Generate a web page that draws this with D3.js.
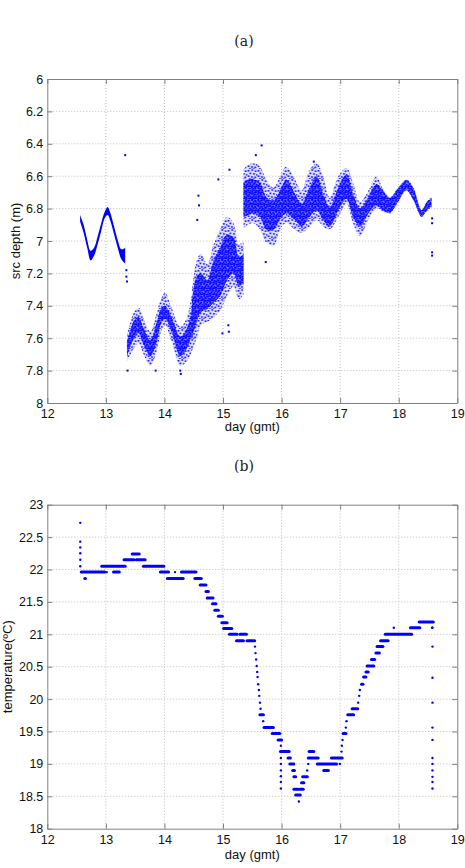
<!DOCTYPE html>
<html>
<head>
<meta charset="utf-8">
<script src="https://cdn.jsdelivr.net/npm/d3@7/dist/d3.min.js"></script>
<style>
  body { margin: 0; background: #fff; }
  text { font-family: "Liberation Sans", Arial, Helvetica, sans-serif; }
</style>
</head>
<body>
<script>
/* global d3 */

// ---------- (a) source depth (m) vs day ----------
// first deployment: clean tidal swing (band top / bottom)
const depA_day = [12.56, 12.62, 12.68, 12.74, 12.80, 12.86, 12.92, 12.98, 13.03, 13.08, 13.14, 13.20, 13.26, 13.30, 13.33];
const depA_top = [6.84, 6.90, 6.99, 7.06, 7.04, 6.97, 6.89, 6.82, 6.79, 6.83, 6.91, 6.99, 7.05, 7.05, 7.04];
const depA_bot = [6.88, 6.95, 7.04, 7.12, 7.09, 7.02, 6.94, 6.86, 6.84, 6.88, 6.96, 7.04, 7.11, 7.13, 7.14];

// second part: noisy, deep
const depB_day = [13.36, 13.42, 13.48, 13.56, 13.645, 13.76, 13.87, 13.94, 14.01, 14.13, 14.27, 14.385, 14.47];
const depB_top = [7.58, 7.50, 7.44, 7.41, 7.48, 7.56, 7.44, 7.36, 7.32, 7.42, 7.53, 7.47, 7.32];
const depB_bot = [7.74, 7.70, 7.66, 7.63, 7.70, 7.77, 7.68, 7.56, 7.52, 7.63, 7.77, 7.74, 7.68];
const depB_coreTop = [7.62, 7.55, 7.49, 7.47, 7.54, 7.61, 7.50, 7.42, 7.40, 7.48, 7.59, 7.54, 7.42];
const depB_coreBot = [7.71, 7.65, 7.60, 7.57, 7.64, 7.71, 7.62, 7.51, 7.48, 7.57, 7.71, 7.66, 7.58];

// rising cloud
const depC_day = [14.47, 14.55, 14.62, 14.73, 14.84, 14.95, 15.07, 15.18, 15.27, 15.35];
const depC_top = [7.30, 7.12, 7.08, 7.14, 7.02, 6.93, 6.85, 6.89, 7.02, 7.00];
const depC_bot = [7.68, 7.60, 7.52, 7.50, 7.47, 7.43, 7.34, 7.28, 7.36, 7.33];
const depC_coreTop = [7.38, 7.22, 7.20, 7.24, 7.12, 7.04, 6.96, 6.98, 7.10, 7.08];
const depC_coreBot = [7.60, 7.50, 7.44, 7.42, 7.38, 7.34, 7.24, 7.20, 7.28, 7.26];

// shallow part, noise dying out towards the end
const depD_day = [15.35, 15.43, 15.52, 15.63, 15.74, 15.86, 16.00, 16.08, 16.23, 16.34, 16.48, 16.60, 16.71, 16.82, 16.97, 17.11, 17.22, 17.34, 17.48, 17.62, 17.73, 17.85, 17.99, 18.13, 18.25, 18.39, 18.47, 18.56];
const depD_top = [6.56, 6.53, 6.52, 6.54, 6.62, 6.67, 6.58, 6.54, 6.62, 6.69, 6.56, 6.52, 6.60, 6.73, 6.60, 6.55, 6.64, 6.76, 6.69, 6.60, 6.68, 6.73, 6.67, 6.62, 6.67, 6.81, 6.76, 6.73];
const depD_bot = [6.92, 6.90, 6.89, 6.93, 7.01, 7.03, 6.91, 6.89, 6.93, 6.95, 6.91, 6.87, 6.91, 6.93, 6.85, 6.77, 6.89, 6.97, 6.87, 6.80, 6.82, 6.83, 6.76, 6.69, 6.75, 6.85, 6.82, 6.79];
const depD_coreTop = [6.64, 6.62, 6.62, 6.64, 6.73, 6.75, 6.67, 6.62, 6.71, 6.77, 6.67, 6.60, 6.71, 6.79, 6.67, 6.59, 6.71, 6.80, 6.73, 6.65, 6.69, 6.735, 6.675, 6.625, 6.675, 6.81, 6.765, 6.735];
const depD_coreBot = [6.85, 6.84, 6.83, 6.85, 6.93, 6.93, 6.85, 6.83, 6.87, 6.91, 6.85, 6.81, 6.87, 6.91, 6.81, 6.74, 6.85, 6.91, 6.83, 6.78, 6.81, 6.825, 6.755, 6.685, 6.745, 6.85, 6.815, 6.785];

// stray readings
const depOut_day = [13.33, 13.35, 13.35, 13.36, 13.37, 13.85, 14.27, 14.28, 14.56, 14.58, 14.59, 14.92, 15.11, 14.99, 15.09, 15.10, 15.56, 15.66, 15.73, 16.55, 18.57, 18.57, 18.57, 18.57];
const depOut_val = [6.47, 7.18, 7.22, 7.25, 7.80, 7.80, 7.80, 7.82, 6.87, 6.72, 6.78, 6.62, 6.56, 7.57, 7.52, 7.56, 6.47, 6.41, 7.13, 6.51, 6.86, 6.89, 7.07, 7.09];

// ---------- (b) temperature vs day ----------
// runs of repeated readings: start day, end day, value
const tmpRun_start = [12.58, 12.64, 12.93, 13.13, 13.31, 13.45, 13.52, 13.64, 13.93, 14.05, 14.29, 14.52, 14.61, 14.71, 14.73, 14.82, 14.86, 14.92, 14.98, 15.01, 15.11, 15.29, 15.23, 15.41,
  15.63, 15.70, 15.84, 15.94, 15.98, 16.11, 16.14, 16.19, 16.21, 16.21, 16.24, 16.31, 16.34, 16.36, 16.455, 16.47, 16.61, 16.72, 16.85, 17.05, 17.13, 17.205, 17.365, 17.40,
  17.44, 17.46, 17.535, 17.61, 17.63, 17.69, 17.77, 18.20, 18.35];
const tmpRun_end = [12.98, 12.65, 13.33, 13.23, 13.48, 13.57, 13.67, 13.99, 14.07, 14.32, 14.54, 14.63, 14.71, 14.75, 14.83, 14.88, 14.92, 14.99, 15.07, 15.15, 15.24, 15.40, 15.35, 15.54,
  15.69, 15.86, 15.97, 16.00, 16.13, 16.15, 16.21, 16.22, 16.24, 16.28, 16.32, 16.37, 16.38, 16.44, 16.625, 16.55, 16.94, 16.80, 17.035, 17.10, 17.23, 17.30, 17.39, 17.44,
  17.48, 17.575, 17.59, 17.67, 17.73, 17.82, 18.22, 18.36, 18.59];
const tmpRun_val = [21.96, 21.86, 22.05, 21.96, 22.15, 22.24, 22.15, 22.05, 21.96, 21.86, 21.96, 21.86, 21.76, 21.66, 21.56, 21.47, 21.37, 21.28, 21.18, 21.09, 21.00, 21.00, 20.90, 20.90,
  19.76, 19.56, 19.47, 19.37, 19.19, 19.09, 19.00, 18.90, 18.80, 18.61, 18.52, 18.61, 18.71, 18.80, 19.09, 19.19, 19.00, 18.90, 19.09, 19.47, 19.76, 19.85, 20.23, 20.34,
  20.42, 20.51, 20.61, 20.71, 20.81, 20.90, 21.00, 21.10, 21.19];
// single readings
const tmpPt_day = [12.563, 12.563, 12.563, 12.563, 12.563, 12.563, 13.015, 14.18,
  15.545, 15.555, 15.565, 15.575, 15.584, 15.59, 15.60, 15.613, 15.618, 15.63, 15.641, 15.686,
  15.988, 15.988, 15.988, 15.988, 15.988, 15.988, 15.988, 16.295, 16.437, 16.455, 16.995, 17.023, 17.029, 17.04, 17.097, 17.109,
  17.308, 17.325, 17.336, 17.45, 17.916, 18.57,
  18.576, 18.576, 18.576, 18.576, 18.576, 18.576, 18.576, 18.576, 18.576, 18.576, 18.576, 18.576];
const tmpPt_val = [22.72, 22.43, 22.34, 22.25, 22.15, 22.05, 21.96, 21.96,
  20.81, 20.71, 20.61, 20.51, 20.42, 20.34, 20.23, 20.14, 20.05, 19.945, 19.85, 19.66,
  19.28, 19.09, 19.00, 18.90, 18.81, 18.72, 18.62, 18.42, 18.90, 19.00, 19.00, 19.19, 19.28, 19.37, 19.56, 19.66,
  19.945, 20.05, 20.14, 20.42, 21.10, 21.10,
  20.81, 20.33, 19.945, 19.56, 19.37, 19.09, 19.00, 18.90, 18.80, 18.72, 18.62, 21.10];

const dayTicks = [12, 13, 14, 15, 16, 17, 18, 19];
const depthTicks = [6, 6.2, 6.4, 6.6, 6.8, 7, 7.2, 7.4, 7.6, 7.8, 8];
const tempTicks = [18, 18.5, 19, 19.5, 20, 20.5, 21, 21.5, 22, 22.5, 23];

const BLUE = '#0000ff';
const W = 465, H = 868;

const svg = d3.select('body').append('svg')
    .attr('width', W)
    .attr('height', H);

const defs = svg.append('defs');

// dot textures used to fill the scatter clouds
function dotPattern(id, size, dots, s) {
    const p = defs.append('pattern')
        .attr('id', id)
        .attr('patternUnits', 'userSpaceOnUse')
        .attr('width', size)
        .attr('height', size);
    p.selectAll('rect')
        .data(dots)
        .join('rect')
        .attr('x', d => d[0])
        .attr('y', d => d[1])
        .attr('width', s)
        .attr('height', s)
        .attr('fill', BLUE);
}
dotPattern('sparse', 10, [[0.5, 1], [4.2, 0.2], [7.6, 1.4], [2.4, 3.6], [5.9, 4.1], [9, 5], [0.6, 6.4], [3.9, 7.2], [7.2, 7.6], [1.8, 9.1], [5.6, 9.3]], 1.6);
dotPattern('dense', 6, [[0, 0], [3, 0.6], [1.5, 2.2], [4.6, 2.8], [0.3, 4], [3.2, 4.5], [5, 5.2], [1.8, 5.4]], 1.8);

/**
 * Axes frame in the MATLAB look: box, dotted grid, inward ticks on all sides.
 */
function drawFrame(cfg) {
    const margin = { top: cfg.top, left: 47.3 };
    const width = 410;
    const height = 324;

    const g = svg.append('g')
        .attr('transform', `translate(${margin.left},${margin.top})`);

    const x = d3.scaleLinear().domain([12, 19]).range([0, width]);
    const y = d3.scaleLinear().domain(cfg.yDomain).range(cfg.yRange(height));

    // grid
    const grid = g.append('g').attr('class', 'grid');
    grid.selectAll('.gx')
        .data(dayTicks.slice(1, -1))
        .join('line')
        .attr('x1', d => x(d)).attr('x2', d => x(d))
        .attr('y1', 0).attr('y2', height);
    grid.selectAll('.gy')
        .data(cfg.yTicks.slice(1, -1))
        .join('line')
        .attr('class', 'gy')
        .attr('x1', 0).attr('x2', width)
        .attr('y1', d => y(d)).attr('y2', d => y(d));
    grid.selectAll('line')
        .style('stroke', '#bdbdbd')
        .style('stroke-width', 1)
        .style('stroke-dasharray', '1,2');

    const plot = g.append('g');

    // axes drawn after the data so they sit on top
    const axes = g.append('g');
    const fmt = d3.format('~g');

    axes.append('g')
        .attr('transform', `translate(0,${height})`)
        .call(d3.axisBottom(x).tickValues(dayTicks).tickSizeInner(-5).tickSizeOuter(0).tickPadding(cfg.xPad).tickFormat(fmt));
    axes.append('g')
        .call(d3.axisTop(x).tickValues(dayTicks).tickSizeInner(-5).tickSizeOuter(0).tickFormat(''));
    axes.append('g')
        .call(d3.axisLeft(y).tickValues(cfg.yTicks).tickSizeInner(-5).tickSizeOuter(0).tickPadding(4).tickFormat(fmt));
    axes.append('g')
        .attr('transform', `translate(${width},0)`)
        .call(d3.axisRight(y).tickValues(cfg.yTicks).tickSizeInner(-5).tickSizeOuter(0).tickFormat(''));

    axes.selectAll('path').style('stroke', '#808080');
    axes.selectAll('line').style('stroke', '#808080');
    axes.selectAll('text')
        .style('font-size', '12.5px')
        .style('fill', '#111');

    // axis labels
    g.append('text')
        .attr('x', width / 2)
        .attr('y', height + cfg.xLabelDy)
        .style('text-anchor', 'middle')
        .style('font-size', '13px')
        .style('fill', '#111')
        .text('day (gmt)');

    g.append('text')
        .attr('transform', 'rotate(-90)')
        .attr('x', -height / 2)
        .attr('y', cfg.yLabelX - margin.left)
        .style('text-anchor', 'middle')
        .style('font-size', '13px')
        .style('fill', '#111')
        .text(cfg.yLabel);

    // panel title
    svg.append('text')
        .attr('x', 244)
        .attr('y', cfg.titleY)
        .style('text-anchor', 'middle')
        .style('font-family', '"DejaVu Serif", "Liberation Serif", serif')
        .style('font-size', '14px')
        .style('fill', '#222')
        .text(cfg.title);

    return { plot, x, y };
}

// ---------- panel (a) ----------
const pa = drawFrame({
    top: 79,
    yDomain: [6, 8],
    yRange: h => [0, h],
    yTicks: depthTicks,
    yLabel: 'src depth (m)',
    xPad: 6,
    xLabelDy: 28,
    yLabelX: 20,
    title: '(a)',
    titleY: 46
});

function band(panel, days, lo, hi, fill, opacity) {
    const rows = d3.zip(days, lo, hi).map(([d, a, b]) => ({ d, a, b }));
    const area = d3.area()
        .x(r => panel.x(r.d))
        .y0(r => panel.y(r.a))
        .y1(r => panel.y(r.b))
        .curve(d3.curveCatmullRom);
    panel.plot.append('path')
        .datum(rows)
        .attr('d', area)
        .attr('fill', fill)
        .attr('fill-opacity', opacity === undefined ? 1 : opacity);
}

// cloud = sparse halo + tinted dense core
function cloud(panel, days, top, bot, coreTop, coreBot) {
    band(panel, days, top, bot, BLUE, 0.12);
    band(panel, days, top, bot, 'url(#sparse)');
    band(panel, days, coreTop, coreBot, BLUE, 0.45);
    band(panel, days, coreTop, coreBot, 'url(#dense)');
}

band(pa, depA_day, depA_top, depA_bot, BLUE);
cloud(pa, depB_day, depB_top, depB_bot, depB_coreTop, depB_coreBot);
cloud(pa, depC_day, depC_top, depC_bot, depC_coreTop, depC_coreBot);
cloud(pa, depD_day, depD_top, depD_bot, depD_coreTop, depD_coreBot);

pa.plot.selectAll('.out')
    .data(d3.zip(depOut_day, depOut_val))
    .join('rect')
    .attr('class', 'out')
    .attr('x', d => pa.x(d[0]) - 1)
    .attr('y', d => pa.y(d[1]) - 1)
    .attr('width', 2)
    .attr('height', 2)
    .attr('fill', BLUE);

// ---------- panel (b) ----------
const pb = drawFrame({
    top: 504.7,
    yDomain: [18, 23],
    yRange: h => [h, 0],
    yTicks: tempTicks,
    yLabel: 'temperature(ºC)',
    xPad: 6,
    xLabelDy: 30,
    yLabelX: 12,
    title: '(b)',
    titleY: 471
});

pb.plot.selectAll('.run')
    .data(d3.zip(tmpRun_start, tmpRun_end, tmpRun_val))
    .join('line')
    .attr('class', 'run')
    .attr('x1', d => pb.x(d[0]))
    .attr('x2', d => pb.x(d[1]))
    .attr('y1', d => pb.y(d[2]))
    .attr('y2', d => pb.y(d[2]))
    .attr('stroke', BLUE)
    .attr('stroke-width', 3)
    .attr('stroke-linecap', 'round');

pb.plot.selectAll('.pt')
    .data(d3.zip(tmpPt_day, tmpPt_val))
    .join('circle')
    .attr('class', 'pt')
    .attr('cx', d => pb.x(d[0]))
    .attr('cy', d => pb.y(d[1]))
    .attr('r', 1.2)
    .attr('fill', BLUE);
</script>
</body>
</html>
